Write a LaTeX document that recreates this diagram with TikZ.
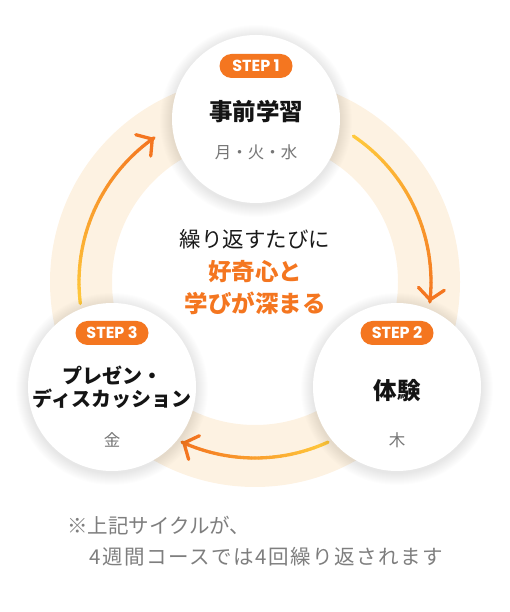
\documentclass[tikz,border=0pt]{standalone}
\usepackage{fontspec}
\setmainfont{Noto Sans CJK JP}
\newfontfamily\stepfont{Poppins}
\usepackage{xcolor}
\usepackage{tikz}
\usetikzlibrary{arrows.meta, positioning, calc}

\definecolor{ringcream}{HTML}{FDF2E2}
\definecolor{steporange}{HTML}{F47620}
\definecolor{arrowyellow}{HTML}{FFC93C}
\definecolor{daygray}{HTML}{767676}
\definecolor{notegray}{HTML}{7E7E7E}

% gradient arc around the ring: #1 start angle, #2 end angle
\newcommand{\cyclearc}[2]{%
  \foreach \k in {0,...,39}{
    \pgfmathsetmacro{\angA}{#1+(#2-#1)*\k/40}
    \pgfmathsetmacro{\angB}{#1+(#2-#1)*(\k+1)/40}
    \pgfmathtruncatemacro{\pct}{100*\k/39}
    \draw[arcline, color=steporange!\pct!arrowyellow] (ring) ++(\angA:176) arc[start angle=\angA, end angle=\angB, radius=176];
  }
  \draw[arcline, arrowtip] (ring) ++(#2+2:176) arc[start angle=#2+2, end angle=#2, radius=176];
}

\begin{document}
\begin{tikzpicture}[
    x=1pt, y=1pt,
    stepcircle/.style={circle, fill=white, minimum size=168pt, inner sep=0pt},
    softshadow/.style={fill=black, opacity=0.009},
    badge/.style={fill=steporange, text=white, rounded corners=12pt, minimum width=73pt, minimum height=24pt, inner sep=0pt, font=\stepfont\bfseries\fontsize{16}{16}\selectfont},
    title/.style={align=center, text=black!92, font=\bfseries\fontsize{23.5}{28}\selectfont},
    day/.style={text=daygray, font=\fontsize{16.5}{18}\selectfont},
    midtext/.style={text=black!90, font=\fontsize{21.5}{24}\selectfont},
    midhot/.style={text=steporange, font=\bfseries\fontsize{23.5}{26}\selectfont},
    note/.style={anchor=west, inner sep=0pt, text=notegray, font=\fontsize{20.5}{24}\selectfont},
    arcline/.style={line width=3.3pt, line cap=round},
    arrowtip/.style={-{Straight Barb[length=11pt, width=26pt, line cap=round]}, color=steporange}
]
    \useasboundingbox (0,0) rectangle (510,612);

    % Ring
    \coordinate (ring) at (255,330);
    \draw[line width=62pt, ringcream] (ring) circle (174);

    % Flows
    \cyclearc{187}{125}
    \cyclearc{56}{-6.5}
    \cyclearc{-65.5}{-114.5}

    % Shadows
    \coordinate (c1) at (256,493);
    \coordinate (c2) at (397,225);
    \coordinate (c3) at (112,225);
    \foreach \c in {c1,c2,c3}
      \foreach \r in {1,...,12}
        \fill[softshadow] ([yshift=-2pt]\c) circle (84+\r);

    % Nodes
    \node (s1) [stepcircle] at (c1) {};
    \node (s2) [stepcircle] at (c2) {};
    \node (s3) [stepcircle] at (c3) {};

    \node (b1) [badge] at ([yshift=53pt]s1.center) {STEP 1};
    \node (t1) [title] at ([yshift=7pt]s1.center) {事前学習};
    \node (d1) [day] at ([yshift=-33pt]s1.center) {月・火・水};

    \node (b2) [badge] at ([yshift=54pt]s2.center) {STEP 2};
    \node (t2) [title] at ([yshift=-4pt]s2.center) {体験};
    \node (d2) [day] at ([yshift=-53pt]s2.center) {木};

    \node (b3) [badge] at ([yshift=54pt]s3.center) {STEP 3};
    \node (t3) [title, font=\bfseries\fontsize{20}{23}\selectfont] at (s3.center) {プレゼン・\\ディスカッション};
    \node (d3) [day] at ([yshift=-53pt]s3.center) {金};

    % Center message
    \node (m1) [midtext] at (255,373) {繰り返すたびに};
    \node (m2) [midhot] at (255,340) {好奇心と};
    \node (m3) [midhot] at (255,309) {学びが深まる};

    % Note
    \node (n1) [note] at (67,86) {※上記サイクルが、};
    \node (n2) [note] at (89,55) {\addfontfeatures{LetterSpace=7.5}4週間コースでは4回繰り返されます};
\end{tikzpicture}
\end{document}
